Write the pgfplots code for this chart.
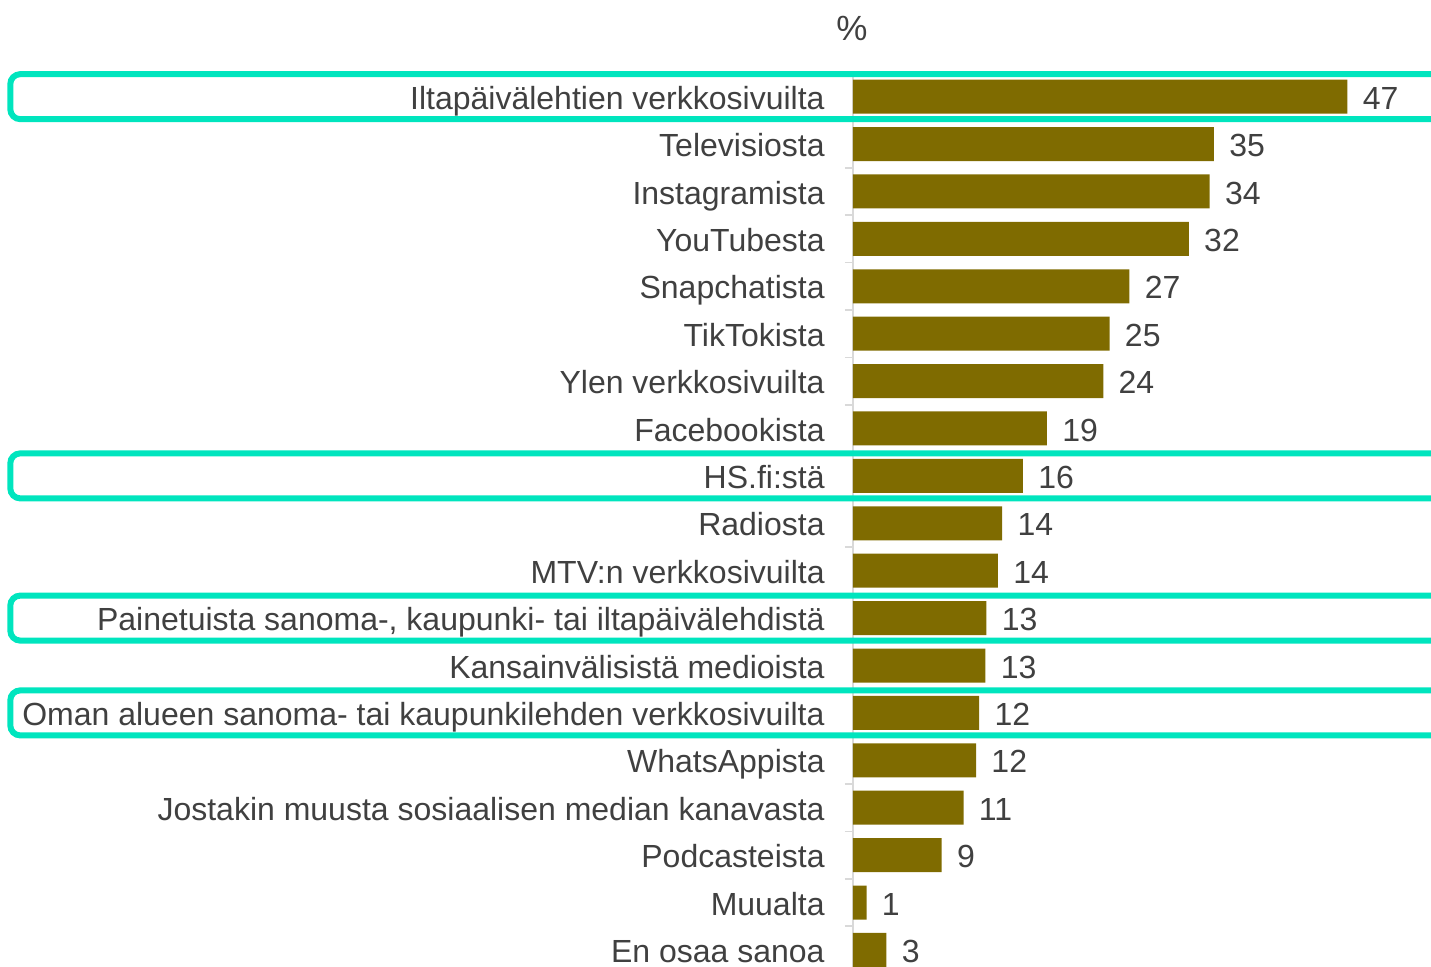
\documentclass[border=0pt]{standalone}
\usepackage{fontspec}
\setmainfont{Liberation Sans}
\usepackage{pgfplots}
\pgfplotsset{compat=1.18}
\definecolor{barcol}{HTML}{7F6B00}
\definecolor{hl}{HTML}{00E5BE}
\definecolor{txt}{HTML}{404040}
\begin{document}
\begin{tikzpicture}
\useasboundingbox (0,0) rectangle (715.5pt,483.5pt);
\clip (0,0) rectangle (715.5pt,483.5pt);
\begin{axis}[
at={(426.5pt,0pt)}, anchor=south west,
scale only axis,
width=289pt, height=446.3pt,
xbar, bar width=17pt,
xmin=0, xmax=55.42,
ymin=-0.36, ymax=18.47,
axis x line=none,
axis y line*=left,
y axis line style={draw=gray!30, line width=0.75pt},
ytick={0,...,18},
yticklabels={En osaa sanoa,Muualta,Podcasteista,Jostakin muusta sosiaalisen median kanavasta,WhatsAppista,Oman alueen sanoma- tai kaupunkilehden verkkosivuilta,Kansainvälisistä medioista,{Painetuista sanoma-, kaupunki- tai iltapäivälehdistä},MTV:n verkkosivuilta,Radiosta,HS.fi:stä,Facebookista,Ylen verkkosivuilta,TikTokista,Snapchatista,YouTubesta,Instagramista,Televisiosta,Iltapäivälehtien verkkosivuilta},
major tick length=0pt,
yticklabel style={anchor=base east, inner sep=0pt, xshift=-14pt, yshift=-6.3pt, font=\fontsize{16}{19}\selectfont, text=txt},
extra y ticks={0.5,1.5,2.5,3.5,4.5,5.5,6.5,7.5,8.5,9.5,10.5,11.5,12.5,13.5,14.5,15.5,16.5,17.5},
extra y tick labels={},
extra y tick style={major tick length=4pt, tick align=outside, major tick style={gray!30, line width=0.75pt}},
nodes near coords,
point meta=explicit symbolic,
nodes near coords style={anchor=base west, inner sep=0pt, xshift=7.5pt, yshift=-6.3pt, font=\fontsize{16}{19}\selectfont, text=txt},
clip=false,
]
\addplot[draw=none, fill=barcol] coordinates {
(47.4,18) [47]
(34.6,17) [35]
(34.2,16) [34]
(32.2,15) [32]
(26.5,14) [27]
(24.6,13) [25]
(24.0,12) [24]
(18.6,11) [19]
(16.3,10) [16]
(14.3,9) [14]
(13.9,8) [14]
(12.8,7) [13]
(12.7,6) [13]
(12.1,5) [12]
(11.8,4) [12]
(10.6,3) [11]
(8.5,2) [9]
(1.3,1) [1]
(3.2,0) [3]
};
\draw[hl, line width=3pt, rounded corners=5pt] (axis cs:-80.8,17.525) rectangle (axis cs:62,18.475);
\draw[hl, line width=3pt, rounded corners=5pt] (axis cs:-80.8,9.525) rectangle (axis cs:62,10.475);
\draw[hl, line width=3pt, rounded corners=5pt] (axis cs:-80.8,6.525) rectangle (axis cs:62,7.475);
\draw[hl, line width=3pt, rounded corners=5pt] (axis cs:-80.8,4.525) rectangle (axis cs:62,5.475);
\end{axis}
\node[font=\fontsize{17.5}{20}\selectfont, text=txt] at (426pt,469.5pt) {\%};
\end{tikzpicture}
\end{document}
